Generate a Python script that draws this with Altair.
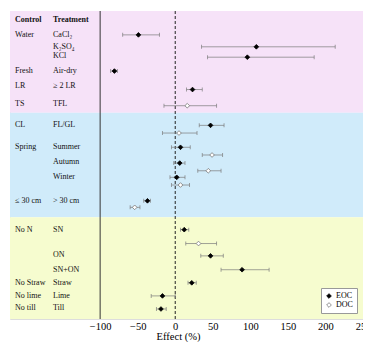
import altair as alt
import pandas as pd

# ---- data ----
# EOC (black diamonds)
eoc_labels = ["CaCl2", "K2SO4", "KCl", "Air-dry", ">=2 LR", "FL/GL", "Summer", "Autumn",
              "Winter", ">30 cm", "SN", "ON", "SN+ON", "Straw", "Lime", "Till"]
eoc_pos = [3.1, 4.65, 6.0, 7.8, 10.2, 14.85, 17.7, 19.75, 21.6, 24.65, 28.4, 31.8, 33.6, 35.3, 37.0, 38.7]
eoc_eff = [-49, 108, 96, -81, 23, 47, 7, 6, 2, -37, 12, 47, 89, 22, -17, -19]
eoc_lo = [-70, 35, 43, -86, 15, 32, -5, -2, -7, -42, 7, 34, 61, 17, -32, -25]
eoc_hi = [-21, 213, 185, -77, 36, 65, 20, 13, 13, -33, 18, 64, 125, 28, 0, -12]

# DOC (white diamonds)
doc_labels = ["TFL", "FL/GL", "Summer", "Autumn", "Winter", ">30 cm", "SN"]
doc_pos = [12.3, 15.85, 18.7, 20.75, 22.6, 25.5, 30.2]
doc_eff = [16, 5, 49, 44, 7, -54, 31]
doc_lo = [-15, -17, 36, 30, -5, -60, 14]
doc_hi = [55, 29, 63, 61, 19, -47, 55]

# left-hand table
control_labels = ["Water", "", "", "Fresh", "LR", "TS", "CL", "Spring", "", "", "≤ 30 cm",
                  "No N", "", "", "No Straw", "No lime", "No till"]
treatment_labels = ["CaCl₂", "K₂SO₄", "KCl", "Air-dry", "≥ 2 LR", "TFL", "FL/GL", "Summer",
                    "Autumn", "Winter", "> 30 cm", "SN", "ON", "SN+ON", "Straw", "Lime", "Till"]
label_pos = [3.1, 4.65, 5.9, 7.8, 9.7, 12.1, 14.85, 17.7, 19.6, 21.6, 24.65, 28.4, 31.7, 33.6,
             35.3, 37.0, 38.6]
header_labels = ["Control", "Treatment"]
header_pos = 1.13

# background bands
band_start = [0, 13.2, 26.8]
band_end = [13.2, 26.8, 40]
band_colors = ["#f6e2f8", "#d0ebfa", "#f6fccf"]

ref_lines = [-100, 0]

# ---- build tables ----
pts = pd.concat([
    pd.DataFrame({"label": eoc_labels, "pos": eoc_pos, "eff": eoc_eff, "lo": eoc_lo,
                  "hi": eoc_hi, "index": "EOC"}),
    pd.DataFrame({"label": doc_labels, "pos": doc_pos, "eff": doc_eff, "lo": doc_lo,
                  "hi": doc_hi, "index": "DOC"}),
], ignore_index=True)

labels_df = pd.DataFrame({"control": control_labels, "treatment": treatment_labels, "pos": label_pos})
header_df = pd.DataFrame({"control": [header_labels[0]], "treatment": [header_labels[1]], "pos": [header_pos]})
bands_df = pd.DataFrame({"y0": band_start, "y1": band_end, "col": band_colors})
refs_df = pd.DataFrame({"x": ref_lines, "kind": ["solid", "dashed"]})

W, H = 353, 308
FONT = "Liberation Serif"

xscale = alt.Scale(domain=[-220, 250], nice=False)
yscale = alt.Scale(domain=[0, 40], reverse=True, nice=False, zero=False)

xaxis = alt.Axis(values=[-100, -50, 0, 50, 100, 150, 200, 250], title="Effect (%)",
                 grid=False, ticks=False, labelPadding=2, titlePadding=0,
                 labelFont=FONT, titleFont=FONT, labelFontSize=10.5, titleFontSize=10.5,
                 titleFontWeight="normal", labelColor="#000", titleColor="#000",
                 domain=False, titleX=168, labelOverlap=False, labelBound=False,
                 labelFlush=False)

bands = alt.Chart(bands_df).mark_rect().encode(
    x=alt.value(0), x2=alt.value(W),
    y=alt.Y("y0:Q", scale=yscale, axis=None), y2="y1:Q",
    color=alt.Color("col:N", scale=None),
)

solid = alt.Chart(refs_df).transform_filter(alt.datum.kind == "solid").mark_rule(
    color="#333", strokeWidth=1).encode(x=alt.X("x:Q", scale=xscale, axis=xaxis))
dashed = alt.Chart(refs_df).transform_filter(alt.datum.kind == "dashed").mark_rule(
    color="#222", strokeWidth=1, strokeDash=[3, 2]).encode(x=alt.X("x:Q", scale=xscale))

err = alt.Chart(pts).mark_rule(color="#7a7a7a", opacity=0.7, strokeWidth=1).encode(
    x=alt.X("lo:Q", scale=xscale), x2="hi:Q", y=alt.Y("pos:Q", scale=yscale))

caps = alt.Chart(pts).transform_fold(["lo", "hi"], as_=["end", "v"]).mark_tick(
    orient="vertical", size=4, thickness=1, color="#7a7a7a", opacity=0.7).encode(
    x=alt.X("v:Q", scale=xscale), y=alt.Y("pos:Q", scale=yscale))

legend = alt.Legend(title=None, orient="bottom-right", offset=6, fillColor="white",
                    strokeColor="#999", padding=4, labelFont=FONT, labelFontSize=8,
                    symbolSize=22, rowPadding=1, labelOffset=3, symbolStrokeWidth=0.8)

points = alt.Chart(pts).mark_point(shape="diamond", size=22, filled=True, strokeWidth=0.8, opacity=1).encode(
    x=alt.X("eff:Q", scale=xscale), y=alt.Y("pos:Q", scale=yscale),
    fill=alt.Fill("index:N", scale=alt.Scale(domain=["EOC", "DOC"], range=["#000000", "#ffffff"]),
                  legend=legend),
    stroke=alt.Stroke("index:N", scale=alt.Scale(domain=["EOC", "DOC"], range=["#000000", "#777777"]),
                      legend=legend),
)

ctl = alt.Chart(labels_df).mark_text(align="left", baseline="middle", font=FONT, fontSize=8,
                                     color="#111").encode(
    x=alt.value(5), y=alt.Y("pos:Q", scale=yscale), text="control:N")
trt = alt.Chart(labels_df).mark_text(align="left", baseline="middle", font=FONT, fontSize=8,
                                     color="#111").encode(
    x=alt.value(43), y=alt.Y("pos:Q", scale=yscale), text="treatment:N")
hctl = alt.Chart(header_df).mark_text(align="left", baseline="middle", font=FONT, fontSize=8,
                                      fontWeight="bold", color="#111").encode(
    x=alt.value(5), y=alt.Y("pos:Q", scale=yscale), text="control:N")
htrt = alt.Chart(header_df).mark_text(align="left", baseline="middle", font=FONT, fontSize=8,
                                      fontWeight="bold", color="#111").encode(
    x=alt.value(43), y=alt.Y("pos:Q", scale=yscale), text="treatment:N")

chart = alt.layer(bands, solid, dashed, err, caps, points, ctl, trt, hctl, htrt).properties(
    width=W, height=H,
    autosize=alt.AutoSizeParams(type="none"),
    padding={"left": 2, "top": 3, "right": 0, "bottom": 23},
).configure_view(stroke="#555", strokeWidth=1).configure(background="white")

chart.save("out.html", embed_options={"renderer": "svg", "actions": False})
